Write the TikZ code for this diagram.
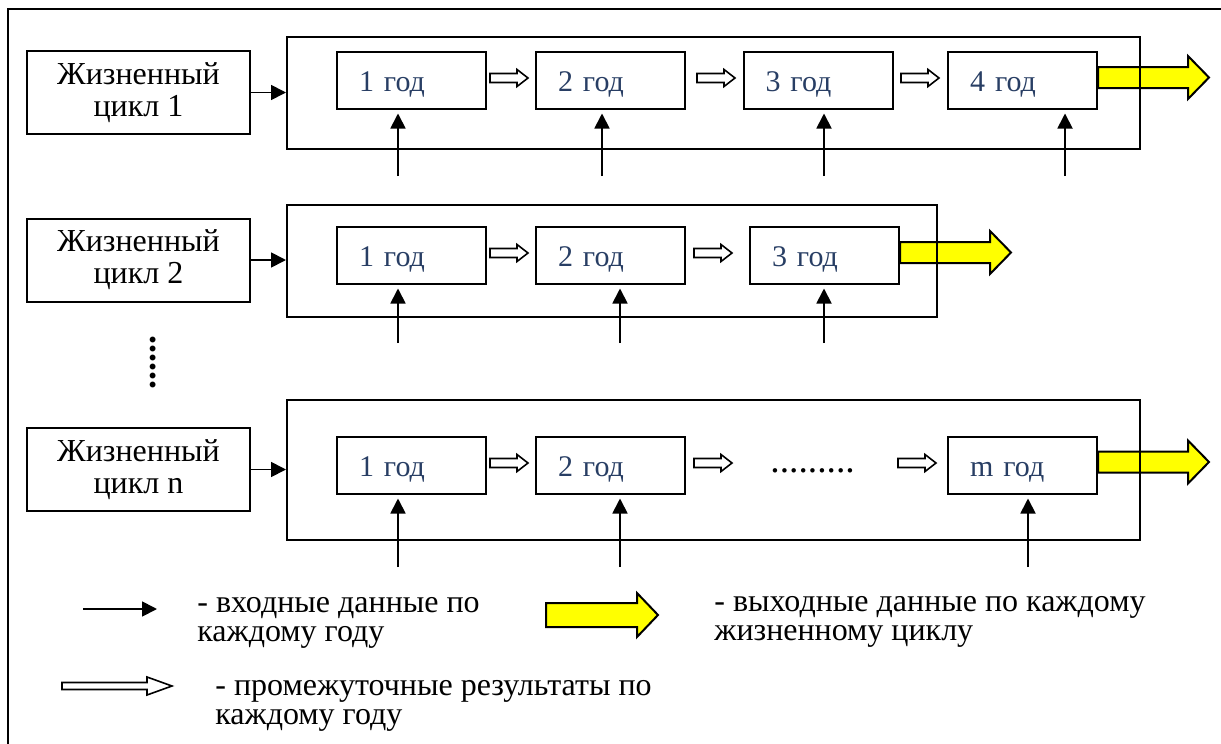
\documentclass[tikz,border=0pt]{standalone}
\usepackage{fontspec}
\setmainfont{Liberation Serif}
\usetikzlibrary{arrows.meta,calc}
\definecolor{yeartext}{RGB}{40,62,100}
\definecolor{outyellow}{RGB}{255,255,0}
\tikzset{
	lcbox/.style={draw, line width=1pt, minimum width=111.5pt, minimum height=41.5pt, inner sep=0pt, align=center, font=\fontsize{16}{16}\selectfont},
	yearbox/.style={draw, line width=1pt, minimum height=28.5pt, text width=52.5pt, text height=13.5pt, text depth=2pt, inner xsep=11pt, inner ysep=0pt, align=left, text=yeartext, font=\fontsize{15}{15}\selectfont},
	cycbox/.style={draw, line width=1pt, anchor=north west, inner sep=0pt},
	inarrow/.style={line width=0.9pt, -{Triangle[length=7.5pt, width=7.5pt]}},
	midarrow/.style={line width=0.8pt, fill=white},
	outarrow/.style={line width=1pt, fill=outyellow},
	legtext/.style={anchor=base west, inner sep=0pt, align=left, font=\fontsize{16}{14.5}\selectfont},
}
% block arrow: #1 start, #2 length, #3 shaft half height, #4 head half height, #5 head length, #6 style
\newcommand{\blockarrow}[6]{\draw[#6] #1 ++(0,-#3) -- ++({#2-#5},0) -- ++(0,{#3-#4}) -- ++(#5,#4) -- ++(-#5,#4) -- ++(0,{#3-#4}) -- ++({#5-#2},0) -- cycle;}

\begin{document}
\begin{tikzpicture}[x=0.5pt, y=-0.5pt]
		\useasboundingbox (0,0) rectangle (1221,744);
		\clip (0,0) rectangle (1221,744);
		% outer frame (runs off the right and bottom edges)
		\draw[line width=1pt] (8,9) rectangle (1300,800);
		% year boxes
		\foreach \n/\x/\y/\lbl in {11/411.5/80/1 год, 12/610.5/80/2 год, 13/818/80/3 год, 14/1022.5/80/4 год,
			21/411.5/255/1 год, 22/610.5/255/2 год, 23/824.5/255/3 год,
			31/411.5/465/1 год, 32/610.5/465/2 год, 33/1022.5/465/m год} {
			\node[yearbox] (y\n) at (\x,\y) {\lbl};
		}
		% intermediate results between years
		\foreach \x/\y in {490/78, 697/78, 901/78, 490/253, 694/253, 490/463, 694/463, 898/463} {
			\blockarrow{(\x,\y)}{38}{4.5}{8.5}{11}{midarrow}
		}
		\node[anchor=base west, inner sep=0pt, font=\fontsize{18.75}{18.75}\selectfont] (hdots) at (770,472) {.........};
		% output of each life cycle
		\blockarrow{($(y14.east)+(0,-2.5)$)}{111}{10.5}{21.5}{21}{outarrow}
		\blockarrow{($(y23.east)+(0,-2.5)$)}{111}{10.5}{21.5}{21}{outarrow}
		\blockarrow{($(y33.east)+(0,-3)$)}{111}{10.5}{21.5}{21}{outarrow}
		% life cycle frames
		\node[cycbox, minimum width=426.5pt, minimum height=56pt] (cyc1) at (286,36) {};
		\node[cycbox, minimum width=325pt, minimum height=56pt] (cyc2) at (286,204) {};
		\node[cycbox, minimum width=426.5pt, minimum height=70pt] (cyc3) at (286,399) {};
		% life cycles
		\node[lcbox] (lc1) at (138.5,92.5) {Жизненный\\цикл 1};
		\node[lcbox] (lc2) at (138.5,260) {Жизненный\\цикл 2};
		\node[lcbox] (lc3) at (138.5,469.5) {Жизненный\\цикл n};
		\foreach \n in {1,2,3} {
			\draw[inarrow] (lc\n.east) -- (lc\n.east -| cyc\n.west);
		}
		\node[rotate=90, inner sep=0pt, font=\fontsize{18}{18}\bfseries] (vdots) at (153,362) {......};
		% input data for each year
		\foreach \n/\x/\y in {11/398/176, 12/602/176, 13/824/176, 14/1065/176,
			21/398/343, 22/620/343, 23/824/343,
			31/398/567, 32/620/567, 33/1028/567} {
			\coordinate (in\n) at (\x,\y);
			\draw[inarrow, shorten >=2pt] (in\n) -- (in\n |- y\n.south);
		}
		% legend (base anchor sits on the last line)
		\coordinate (legin) at (83,609);
		\coordinate (legout) at (157,609);
		\draw[inarrow] (legin) -- (legout);
		\node[legtext] (legtxt1) at (197,641) {- входные данные по\\каждому году};
		\blockarrow{(546,615)}{112}{12}{22}{21}{outarrow}
		\node[legtext] (legtxt2) at (714,640) {- выходные данные по каждому\\жизненному циклу};
		\blockarrow{(62,686)}{110}{3.5}{9}{25}{midarrow}
		\node[legtext] (legtxt3) at (215,724) {- промежуточные результаты по\\каждому году};
\end{tikzpicture}
\end{document}
